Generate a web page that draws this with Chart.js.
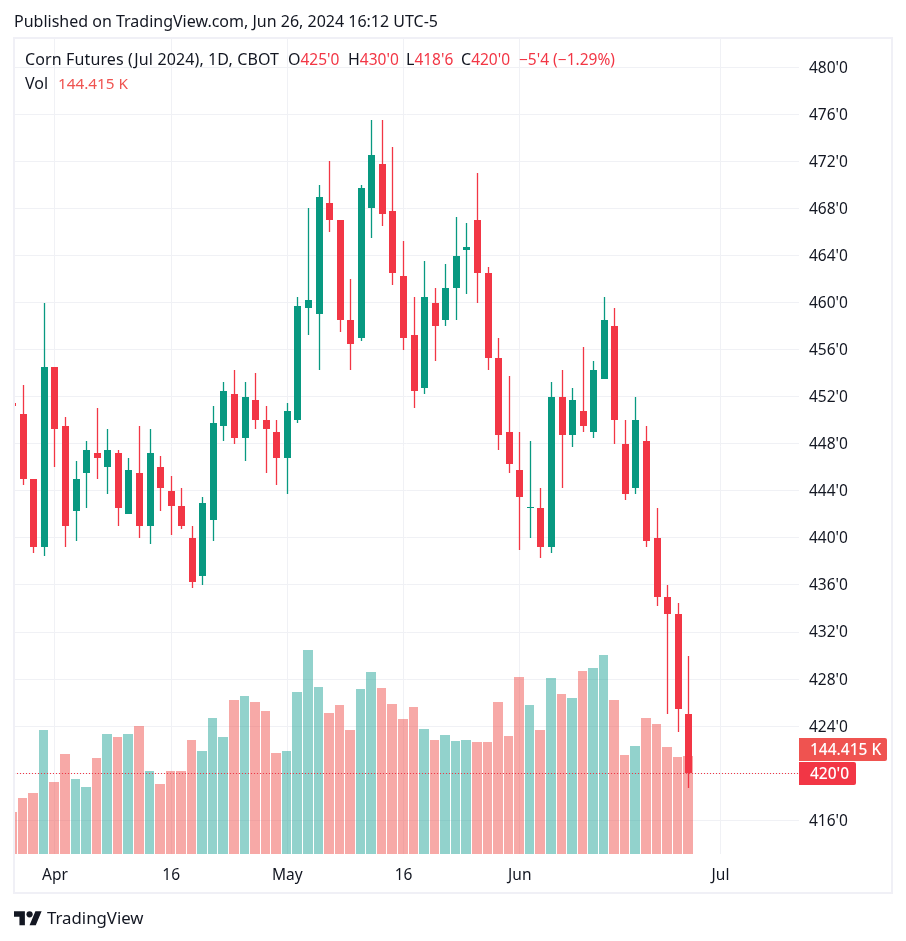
<!DOCTYPE html>
<html>
<head>
<meta charset="utf-8">
<title>Corn Futures (Jul 2024)</title>
<script src="https://cdn.jsdelivr.net/npm/chart.js@4"></script>
<style>
  html, body { margin: 0; padding: 0; background: #fff; }
  body { width: 906px; height: 941px; position: relative; overflow: hidden;
         font-family: "Noto Sans", sans-serif; font-size: 16px; color: #131722; }
  canvas { position: absolute; left: 0; top: 0; }
  .t { position: absolute; white-space: nowrap; line-height: 20px; }
  .red { color: #F23645; font-size: 15.5px; }
  #frame { position: absolute; left: 13px; top: 37px; width: 876px; height: 853px;
           border: 2px solid #F0F0F6; }
</style>
</head>
<body>
<canvas id="chart" width="906" height="941"></canvas>
<div id="frame"></div>
<div class="t" style="left:14px;top:11px">Published on TradingView.com, Jun 26, 2024 16:12 UTC-5</div>
<div class="t" style="left:25px;top:49px;letter-spacing:0.12px">Corn Futures (Jul 2024), 1D, CBOT</div>
<div class="t" style="left:288px;top:49px">O<span class="red">425'0</span></div>
<div class="t" style="left:348px;top:49px">H<span class="red">430'0</span></div>
<div class="t" style="left:406px;top:49px">L<span class="red">418'6</span></div>
<div class="t" style="left:461px;top:49px">C<span class="red">420'0</span></div>
<div class="t red" style="left:519px;top:49px">−5'4 (−1.29%)</div>
<div class="t" style="left:25px;top:73px">Vol</div>
<div class="t" style="left:58px;top:73px;color:#EF5350;font-size:15.3px">144.415 K</div>
<svg style="position:absolute;left:14px;top:908px" width="28" height="22" viewBox="0 0 36 28">
  <path fill="#131722" d="M14 22H7V11H0V4h14v18zM28 22h-8l7.5-18h8L28 22z"/>
  <circle fill="#131722" cx="20" cy="8" r="4"/>
</svg>
<div class="t" style="left:47px;top:908px;font-size:16.8px">TradingView</div>

<script>
const opens = [451.5, 450.5, 445, 439.25, 454.5, 449.5, 442.25, 445.5, 447.25, 446, 447.25, 442, 445.5, 441, 446, 444, 442.75, 440, 436.75, 441.5, 449.5, 452.25, 448.5, 451.75, 450, 449, 446.75, 450, 459.5, 459, 468.5, 467, 458.5, 457, 468, 471.75, 467.75, 462.25, 457.25, 452.75, 460, 458.5, 461.25, 464.5, 467, 462.5, 455.25, 449, 445.75, 442.5, 442.5, 439.25, 452, 448.75, 450.75, 449, 453.5, 458, 448, 444.25, 448.25, 440, 435, 433.5, 425];
const highs = [451.5, 453, 445, 460, 454.5, 450.25, 446.5, 448.25, 451, 449.25, 447.5, 446.75, 449.5, 449.25, 447, 445.25, 444.25, 441, 443.5, 451.25, 453.25, 454.25, 453.25, 454, 451.25, 450, 451.5, 460.5, 468, 470, 472, 467, 462, 470, 475.5, 475.5, 473.25, 465.25, 460.5, 463.5, 461.25, 463.25, 467.25, 466.75, 471, 463, 457, 453.75, 449, 448.25, 444.25, 453.25, 454.25, 452.75, 456.25, 455, 460.5, 459.5, 450, 452, 449.5, 442.5, 436, 434.5, 430];
const lows = [451.25, 444.5, 438.75, 438.5, 446, 439.25, 439.75, 442.5, 445, 443.75, 441, 442, 440, 439.5, 442.25, 440.25, 440.75, 435.75, 436, 439.75, 448.25, 448, 446.5, 449.25, 445.5, 444.5, 443.75, 449.75, 457.25, 454.25, 466, 457.5, 454.25, 456.75, 465.5, 466.5, 461.5, 456, 451, 452.25, 455, 458, 458.5, 460.75, 460, 454.25, 447.5, 445.5, 439, 440, 438.25, 438.75, 444.25, 447.75, 449, 448.5, 453.5, 448, 443.25, 443.75, 439.25, 434.25, 425, 423.5, 418.75];
const closes = [451.25, 445, 439.25, 454.5, 449.25, 441, 445, 447.5, 446.75, 447.5, 442.5, 445.75, 441, 447.25, 444.25, 442.75, 441, 436.25, 443, 449.75, 452.5, 448.5, 452, 450, 449.25, 446.75, 450.75, 459.75, 460.25, 469, 467, 458.5, 456.5, 469.75, 472.5, 467.5, 462.5, 457, 452.5, 460.5, 458, 461.25, 464, 464.75, 462.5, 455.25, 448.75, 446.25, 443.5, 442.5, 439.25, 452, 448.75, 451.75, 449.5, 454.25, 458.5, 450, 443.75, 450, 439.75, 435, 433.5, 425.5, 420];
const volumes = [61.9, 82.5, 89.9, 182.7, 106.1, 147.4, 110.5, 98.7, 141.5, 176.8, 172.4, 176.8, 188.6, 122.3, 103.2, 122.3, 122.3, 168, 151.8, 200.4, 172.4, 226.9, 232.8, 224, 210.7, 148.8, 151.8, 238.7, 300.6, 246.1, 207.8, 219.6, 182.7, 243.1, 268.2, 244.6, 221, 198.9, 216.6, 184.2, 168, 175.4, 166.5, 168, 165, 165, 224, 173.9, 260.8, 219.6, 182.7, 259.4, 235.8, 229.9, 269.7, 274.1, 293.2, 226.9, 145.9, 159.1, 200.4, 191.6, 157.7, 142.9, 144.4];
// x is the trading day number, Apr 1 = 0
const firstDay = -4;
const xTickDays = [0, 11, 22, 33, 44, 63];
const xTickLabels = ['Apr', '16', 'May', '16', 'Jun', 'Jul'];
const priceTicks = [416, 420, 424, 428, 432, 436, 440, 444, 448, 452, 456, 460, 464, 468, 472, 476, 480];
const lastPriceLabel = "420'0";
const lastVolumeLabel = '144.415 K';

const FONT = '"Noto Sans", sans-serif';
const UP = '#089981', DOWN = '#F23645';
const VOL_UP = 'rgba(38,166,154,0.5)', VOL_DOWN = 'rgba(239,83,80,0.5)';
const GRID = '#F0F1F5';
const isUp = opens.map((o, i) => closes[i] >= o);
const candleColors = isUp.map(u => u ? UP : DOWN);
const volumeColors = isUp.map(u => u ? VOL_UP : VOL_DOWN);
const dayOf = i => firstDay + i;

// keep bars on whole pixels like the original, positions still come from the scales
const snapBars = {
  id: 'snapBars',
  afterDatasetsUpdate(chart) {
    const xs = chart.scales.x;
    chart.data.datasets.forEach((ds, d) => {
      chart.getDatasetMeta(d).data.forEach((el, i) => {
        const px = Math.floor(xs.getPixelForValue(dayOf(i)));
        if (ds.kind === 'volume') {
          const next = Math.floor(xs.getPixelForValue(dayOf(i) + 1));
          const left = px - 5, right = next - 6;
          el.x = (left + right) / 2;
          el.width = right - left;
        } else {
          el.x = px + 0.5;
        }
        el.y = Math.round(el.y);
        el.base = Math.round(el.base);
        if (el.y === el.base) el.base = el.y + 1;
      });
    });
  },
  // price labels sit 1px lower than chart.js puts them
  beforeDraw(chart) {
    chart.scales.y.getLabelItems().forEach(item => { item.options.translation[1] += 1; });
  }
};

const lastTags = {
  id: 'lastTags',
  afterDatasetsDraw(chart) {
    const { ctx, chartArea, scales } = chart;
    const y = Math.floor(scales.y.getPixelForValue(closes[closes.length - 1])) + 0.5;
    ctx.save();
    ctx.strokeStyle = DOWN;
    ctx.lineWidth = 1;
    ctx.setLineDash([1, 2]);
    ctx.beginPath();
    ctx.moveTo(chartArea.left, y);
    ctx.lineTo(chartArea.right, y);
    ctx.stroke();
    ctx.setLineDash([]);

    ctx.textBaseline = 'middle';
    ctx.textAlign = 'left';
    const top = y - 11.5;
    ctx.fillStyle = DOWN;
    ctx.beginPath();
    ctx.roundRect(chartArea.right, top, 57, 23, [0, 2, 2, 0]);
    ctx.fill();
    ctx.fillStyle = '#fff';
    ctx.font = '500 15.5px ' + FONT;
    ctx.fillText(lastPriceLabel, chartArea.right + 11, y + 1);

    ctx.fillStyle = '#EF5350';
    ctx.beginPath();
    ctx.roundRect(chartArea.right, top - 24, 88, 23, [0, 2, 2, 0]);
    ctx.fill();
    ctx.fillStyle = '#fff';
    ctx.font = '500 15.5px ' + FONT;
    ctx.fillText(lastVolumeLabel, chartArea.right + 11, y - 23);
    ctx.restore();
  }
};

new Chart(document.getElementById('chart'), {
  type: 'bar',
  data: {
    datasets: [{
      kind: 'volume',
      yAxisID: 'vol',
      order: 3,
      barThickness: 10,
      data: volumes.map((v, i) => ({ x: dayOf(i), y: v })),
      backgroundColor: volumeColors
    }, {
      kind: 'wick',
      yAxisID: 'y',
      order: 2,
      barThickness: 1.3,
      data: highs.map((h, i) => ({ x: dayOf(i), y: [lows[i], h] })),
      backgroundColor: candleColors
    }, {
      kind: 'body',
      yAxisID: 'y',
      order: 1,
      barThickness: 7,
      minBarLength: 1,
      data: opens.map((o, i) => ({ x: dayOf(i), y: [o, closes[i]] })),
      backgroundColor: candleColors
    }]
  },
  options: {
    responsive: false,
    animation: false,
    events: [],
    layout: { padding: { left: 14, top: 39, right: 0, bottom: 48 } },
    datasets: { bar: { grouped: false, inflateAmount: 0, borderWidth: 0 } },
    plugins: { legend: { display: false }, tooltip: { enabled: false } },
    scales: {
      x: {
        type: 'linear',
        offset: false,
        min: -3.874,
        max: 70.43,
        afterBuildTicks: axis => { axis.ticks = xTickDays.map(value => ({ value })); },
        afterFit: axis => { axis.height = 39; },
        grid: { color: GRID, drawTicks: false, offset: false },
        border: { display: false },
        ticks: {
          autoSkip: false,
          maxRotation: 0,
          padding: 12,
          color: '#131722',
          font: { family: FONT, size: 15.5 },
          callback: value => xTickLabels[xTickDays.indexOf(value)]
        }
      },
      y: {
        position: 'right',
        min: 413.136,
        max: 482.4,
        afterBuildTicks: axis => { axis.ticks = priceTicks.map(value => ({ value })); },
        afterFit: axis => { axis.width = 107; },
        grid: { color: GRID, drawTicks: false },
        border: { display: false },
        ticks: {
          autoSkip: false,
          padding: 10,
          color: '#131722',
          font: { family: FONT, size: 15.5 },
          callback: value => value + "'0"
        }
      },
      vol: { display: false, min: 0, max: 1201 }
    }
  },
  plugins: [snapBars, lastTags]
});
</script>
</body>
</html>
